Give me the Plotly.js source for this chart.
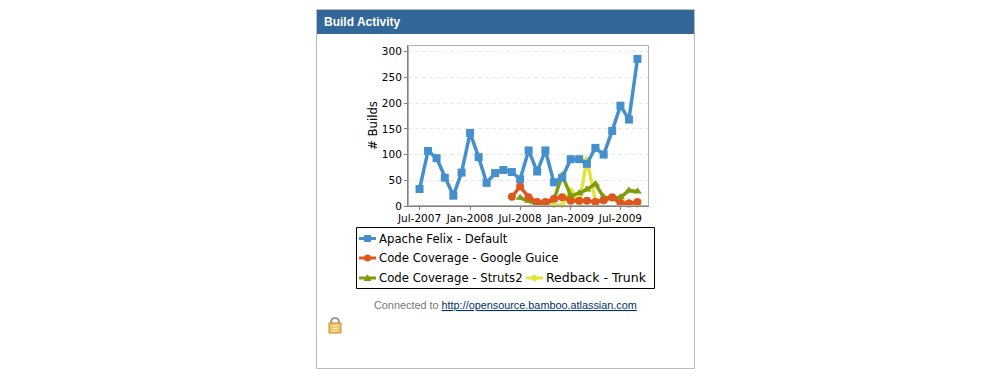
<!DOCTYPE html>
<html><head><meta charset="utf-8">
<script src="https://cdn.plot.ly/plotly-3.0.1.min.js"></script>
<style>html,body{margin:0;padding:0;background:#fff;overflow:hidden}#c{width:1007px;height:377px}</style>
</head><body><div id="c"></div>
<script>
const months = ['2007-07-01','2007-08-01','2007-09-01','2007-10-01','2007-11-01','2007-12-01','2008-01-01','2008-02-01','2008-03-01','2008-04-01','2008-05-01','2008-06-01','2008-07-01','2008-08-01','2008-09-01','2008-10-01','2008-11-01','2008-12-01','2009-01-01','2009-02-01','2009-03-01','2009-04-01','2009-05-01','2009-06-01','2009-07-01','2009-08-01','2009-09-01'];
const felix  = [33,107,93,55,20,65,142,95,45,64,70,66,52,108,67,108,46,55,91,91,82,113,100,146,195,168,286];
const guice  = [null,null,null,null,null,null,null,null,null,null,null,18,38,17,8,8,14,17,10,10,10,8,11,17,6,5,8];
const struts = [null,null,null,null,null,null,null,null,null,null,null,null,16,10,3,3,12,60,20,25,32,43,17,16,17,30,28];
const redback= [null,null,null,null,null,null,null,null,null,null,null,null,null,null,null,null,2,2,30,5,90,10,10,14,8,8,3];
const names  = ['Apache Felix - Default','Code Coverage - Google Guice','Code Coverage - Struts2','Redback - Trunk'];
const colors = ['#4590cc','#e0561f','#7f9c0c','#e3e33b'];
const symbols= ['square','circle','triangle-up','diamond'];
const series = [felix,guice,struts,redback];
const drawOrder = [3,2,1,0];
const W=1007,H=377;
const L=408,Rt=649,T=45,B=206;
const px=x=>(x-L)/(Rt-L), py=y=>(B-y)/(B-T);
const traces = drawOrder.map(i=>({
  x:months,y:series[i],name:names[i],type:'scatter',mode:'lines+markers',connectgaps:false,cliponaxis:false,
  line:{color:colors[i],width:3.5},marker:{color:colors[i],symbol:symbols[i],size:i==3?6:8}
}));
const shapes=[], ann=[];
const R=(x0,y0,x1,y1,fill,line)=>shapes.push({type:'rect',xref:'paper',yref:'paper',layer:'below',x0:px(x0),x1:px(x1),y0:py(y0),y1:py(y1),fillcolor:fill,line:line?{color:line,width:1}:{width:0}});
R(316.5,9.5,694.5,368.5,'#ffffff','#bbbbbb');
R(317,10,694,34,'#336699',null);
const lb=(x0,y0,x1,y1,col,w)=>shapes.push({type:'rect',xref:'paper',yref:'paper',x0:px(x0),x1:px(x1),y0:py(y0),y1:py(y1),fillcolor:col,line:w?{color:'#000',width:w}:{width:0}});
lb(356.5,227.5,654.5,288.5,'rgba(255,255,255,0)',1);
const keys=[[359,238.5,378],[359,258,378],[359,278,378],[526,278,545]];
const textY=[239,258,278,277.3];
keys.forEach((k,i)=>{
  const mid=k[0]+8.5;
  shapes.push({type:'line',xref:'paper',yref:'paper',x0:px(k[0]),x1:px(k[0]+17),y0:py(k[1]),y1:py(k[1]),line:{color:colors[i],width:3}});
  const c=colors[i];
  if(i==0) lb(mid-3.5,k[1]-3.5,mid+3.5,k[1]+3.5,c,0);
  if(i==1) shapes.push({type:'circle',xref:'paper',yref:'paper',x0:px(mid-3.5),x1:px(mid+3.5),y0:py(k[1]-3.5),y1:py(k[1]+3.5),fillcolor:c,line:{width:0}});
  if(i==2) shapes.push({type:'path',xref:'paper',yref:'paper',path:`M ${px(mid-4)} ${py(k[1]+3)} L ${px(mid+4)} ${py(k[1]+3)} L ${px(mid)} ${py(k[1]-4)} Z`,fillcolor:c,line:{width:0}});
  if(i==3) shapes.push({type:'path',xref:'paper',yref:'paper',path:`M ${px(mid-4)} ${py(k[1])} L ${px(mid)} ${py(k[1]+4)} L ${px(mid+4)} ${py(k[1])} L ${px(mid)} ${py(k[1]-4)} Z`,fillcolor:c,line:{width:0}});
  ann.push({xref:'paper',yref:'paper',x:px(k[2]-1),y:py(textY[i]),xanchor:'left',yanchor:'middle',showarrow:false,text:names[i],font:{family:'DejaVu Sans',size:i==3?12.5:11.7,color:'#000'}});
});
ann.push({xref:'paper',yref:'paper',x:px(322),y:py(22),xanchor:'left',yanchor:'middle',showarrow:false,text:'<b>Build Activity</b>',font:{family:'Liberation Sans',size:12,color:'#fff'}});
ann.push({xref:'paper',yref:'paper',x:px(371.5),y:py(304.5),xanchor:'left',yanchor:'middle',showarrow:false,
  text:'<span style="color:#777777">Connected to </span><span style="color:#003366"><u>http://opensource.bamboo.atlassian.com</u></span>',font:{family:'Liberation Sans',size:10.85,color:'#777'}});
// lock icon
shapes.push({type:'path',xref:'paper',yref:'paper',path:`M ${px(331)} ${py(323)} Q ${px(331)} ${py(318)} ${px(335)} ${py(318)} Q ${px(339)} ${py(318)} ${px(339)} ${py(323)}`,line:{color:'#999999',width:2}});
shapes.push({type:'rect',xref:'paper',yref:'paper',x0:px(329),x1:px(341),y0:py(323),y1:py(333),fillcolor:'#f2c266',line:{color:'#c98a2b',width:1}});
[326,328.5,331].forEach(y=>shapes.push({type:'line',xref:'paper',yref:'paper',x0:px(332),x1:px(338),y0:py(y),y1:py(y),line:{color:'#fff0c8',width:1}}));
shapes.push({type:'rect',xref:'paper',yref:'paper',x0:px(408.5),x1:px(648.5),y0:py(205.5),y1:py(45.5),line:{color:'#b0b0b0',width:1},fillcolor:'rgba(0,0,0,0)'});
const layout={
  width:W,height:H,paper_bgcolor:'#fff',plot_bgcolor:'rgba(0,0,0,0)',showlegend:false,
  margin:{l:L,r:W-Rt,t:T,b:H-B},
  xaxis:{type:'date',range:['2007-05-20','2009-10-13'],tickvals:['2007-07-01','2008-01-01','2008-07-01','2009-01-01','2009-07-01'],tickformat:'%b-%Y',
    showgrid:false,zeroline:false,showline:true,linecolor:'#808080',linewidth:1,ticks:'outside',ticklen:3,tickcolor:'#808080',ticklabelstandoff:-1,
    tickfont:{family:'DejaVu Sans',size:10.5,color:'#000'}},
  yaxis:{range:[0,313],tickvals:[0,50,100,150,200,250,300],showgrid:true,gridcolor:'#e8e8e8',griddash:'4px,3px',gridwidth:1,zeroline:false,showline:true,linecolor:'#808080',linewidth:1,ticks:'outside',ticklen:3,tickcolor:'#808080',
    tickfont:{family:'DejaVu Sans',size:10.5,color:'#000'},
    title:{text:'# Builds',font:{family:'DejaVu Sans',size:11.7,color:'#000'},standoff:1}},
  shapes,annotations:ann
};
Plotly.newPlot('c',traces,layout,{displayModeBar:false,staticPlot:true});
</script></body></html>
